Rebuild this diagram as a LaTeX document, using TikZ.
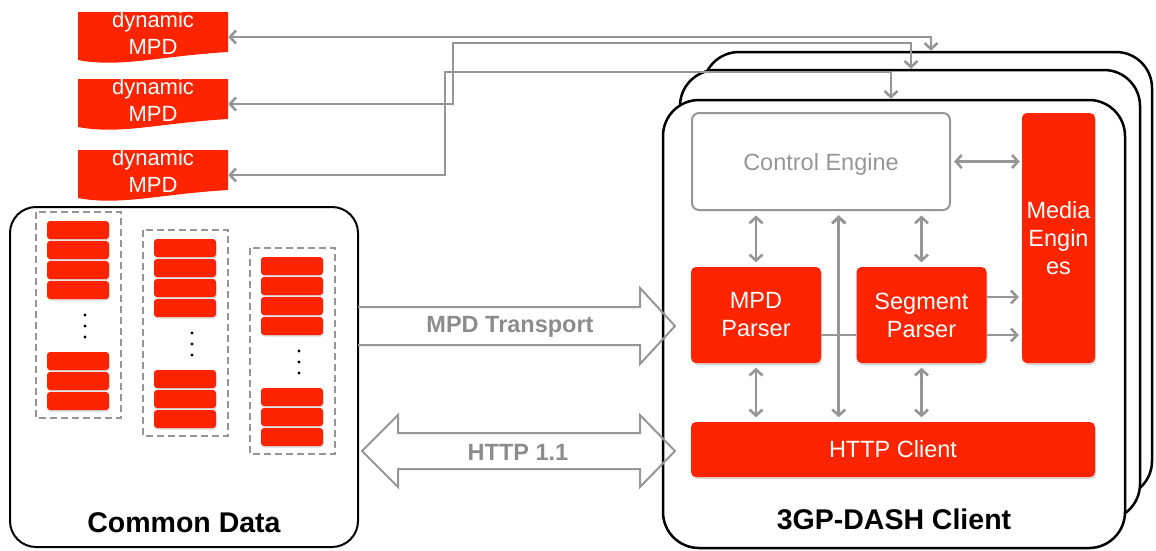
\documentclass[tikz,border=0pt]{standalone}
\usepackage{fontspec}
\setmainfont{Liberation Sans}
\usetikzlibrary{arrows.meta,calc,shadows}
\definecolor{dashred}{RGB}{255,36,0}
\definecolor{wiregray}{RGB}{150,150,150}
\definecolor{textgray}{RGB}{140,140,140}

\begin{document}
\begin{tikzpicture}[x=1pt,y=-1pt,>={Straight Barb[length=6pt,width=13pt]},
	wire/.style={draw=wiregray,line width=2.6pt},
	redbox/.style={fill=dashred,rounded corners=5pt,text=white,align=center,inner sep=0pt,
		font=\fontsize{23.5}{28}\selectfont,drop shadow={opacity=.3,shadow xshift=1pt,shadow yshift=-2pt}},
	card/.style={draw,fill=white,line width=2.5pt,rounded corners=36pt,inner sep=0pt},
	mpddoc/.style={text=white,align=center,inner sep=0pt,minimum width=150pt,minimum height=50pt,
		text depth=8pt,font=\fontsize{22}{27}\selectfont},
	blockarrow/.style={draw=wiregray,line width=2pt,line join=miter},
	flowtext/.style={text=textgray,font=\fontsize{23.5}{28}\selectfont\bfseries},
	boxtitle/.style={font=\fontsize{28.5}{34}\selectfont\bfseries},
	segbar/.style={fill=dashred,rounded corners=3pt,drop shadow={opacity=.3,shadow xshift=.5pt,shadow yshift=-1.5pt}},
	segstack/.style={draw=wiregray,line width=2pt,dash pattern=on 7pt off 4pt}]
	\useasboundingbox (0,0) rectangle (1156,550);
	\foreach \n/\ytop in {1/12,2/79,3/150}{
		\fill[dashred] (78,\ytop) -- ++(150,0) -- ++(0,40) .. controls +(-68,4) and +(42,8) .. ++(-150,8) -- cycle;
		\node[mpddoc] (mpd\n) at (153,\ytop+25) {dynamic\\MPD};
	}
	\node[card,minimum width=449pt,minimum height=445pt] (cardA) at (927.5,274.5) {};
	\node[card,minimum width=460pt,minimum height=450pt] (cardB) at (910,295) {};
	\node[card,minimum width=462pt,minimum height=448pt] (cardC) at (894,324) {};
	\node[boxtitle] (clientlbl) at ([yshift=30pt]cardC.south) {3GP-DASH Client};
	\node[draw=wiregray,line width=2pt,rounded corners=7pt,minimum width=258pt,minimum height=97pt,
		text=wiregray,text depth=0pt,font=\fontsize{23.5}{28}\selectfont] (ctrl) at (821,161.5) {Control Engine};
	\node[redbox,minimum width=73pt,minimum height=250pt] (media) at (1058.5,238) {Media\\Engin\\es};
	\node[redbox,minimum width=130pt,minimum height=96pt] (mpdp) at (756,315) {MPD\\Parser};
	\node[redbox,minimum width=130pt,minimum height=96pt] (segp) at (921.5,315) {Segment\\Parser};
	\node[redbox,minimum width=404pt,minimum height=55pt] (http) at (893,449.5) {HTTP Client};
	\node[draw,line width=2pt,rounded corners=26pt,minimum width=348pt,minimum height=340pt] (cdata) at (184,377) {};
	\node[boxtitle] (cdlbl) at ([yshift=25pt]cdata.south) {Common Data};
	\foreach \k in {0,1,2}{
		\begin{scope}[shift={(107*\k,18*\k)}]
			\draw[segstack] (36,212) rectangle (121,418);
			\foreach \j in {0,...,3} \fill[segbar] (47,221+20*\j) rectangle (109,239+20*\j);
			\foreach \j in {0,1,2} \fill[segbar] (47,352+20*\j) rectangle (109,370+20*\j);
			\foreach \j in {0,1,2} \fill (85,315+11*\j) circle (1.6pt);
		\end{scope}
	}
	\coordinate (jogB) at (453,43);
	\coordinate (jogC) at (445,72);
	\coordinate (dropA) at (931,0);
	\coordinate (dropB) at (911,0);
	\coordinate (dropC) at (891,0);
	\draw[wire,<->] (mpd1.east) -| (cardA.north -| dropA);
	\draw[wire,<->] (mpd2.east) -| (jogB) -| (cardB.north -| dropB);
	\draw[wire,<->] (mpd3.east) -| (jogC) -| (cardC.north -| dropC);
	\coordinate (bus) at ($(mpdp.east)!.5!(segp.west)$);
	\coordinate (sp1) at ([yshift=18pt]segp.east);
	\coordinate (sp2) at ([yshift=-20pt]segp.east);
	\path[wire,<->,shorten <=4.5pt,shorten >=4.5pt]
		(mpdp.north) edge (mpdp.north |- ctrl.south)
		(segp.north) edge (segp.north |- ctrl.south)
		(mpdp.south) edge (mpdp.south |- http.north)
		(segp.south) edge (segp.south |- http.north)
		(bus |- ctrl.south) edge (bus |- http.north);
	\draw[wire,<->,shorten <=3pt,shorten >=2pt] (ctrl.east) -- (ctrl.east -| media.west);
	\draw[wire] ([yshift=-20pt]mpdp.east) -- ([yshift=-20pt]segp.west);
	\draw[wire,->,shorten >=3pt] (sp1) -- (sp1 -| media.west);
	\draw[wire,->,shorten >=3pt] (sp2) -- (sp2 -| media.west);
	\coordinate (mtL) at (358,326);
	\coordinate (htL) at (362,451);
	\draw[blockarrow] (mtL) ++(0,-19) -- ++(282,0) -- ++(0,-19) -- ++(35,38) -- ++(-35,38) -- ++(0,-19) -- ++(-282,0);
	\draw[blockarrow] (htL) -- ++(36,-36) -- ++(0,18) -- ++(242,0) -- ++(0,-18) -- ++(35,36) -- ++(-35,36)
		-- ++(0,-18) -- ++(-242,0) -- ++(0,18) -- cycle;
	\node[flowtext] (mpdtr) at (510,327) {MPD Transport};
	\node[flowtext] (httpv) at (518,452) {HTTP 1.1};
\end{tikzpicture}
\end{document}
